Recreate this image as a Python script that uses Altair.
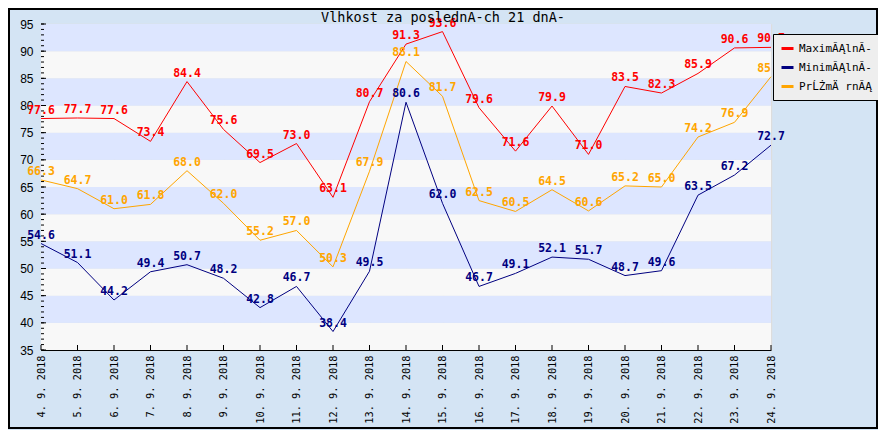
import altair as alt
import pandas as pd

dates = ["4. 9. 2018", "5. 9. 2018", "6. 9. 2018", "7. 9. 2018", "8. 9. 2018",
         "9. 9. 2018", "10. 9. 2018", "11. 9. 2018", "12. 9. 2018", "13. 9. 2018",
         "14. 9. 2018", "15. 9. 2018", "16. 9. 2018", "17. 9. 2018", "18. 9. 2018",
         "19. 9. 2018", "20. 9. 2018", "21. 9. 2018", "22. 9. 2018", "23. 9. 2018",
         "24. 9. 2018"]
maximum = [77.6, 77.7, 77.6, 73.4, 84.4, 75.6, 69.5, 73.0, 63.1, 80.7, 91.3,
           93.6, 79.6, 71.6, 79.9, 71.0, 83.5, 82.3, 85.9, 90.6, 90.7]
minimum = [54.6, 51.1, 44.2, 49.4, 50.7, 48.2, 42.8, 46.7, 38.4, 49.5, 80.6,
           62.0, 46.7, 49.1, 52.1, 51.7, 48.7, 49.6, 63.5, 67.2, 72.7]
average = [66.3, 64.7, 61.0, 61.8, 68.0, 62.0, 55.2, 57.0, 50.3, 67.9, 88.1,
           81.7, 62.5, 60.5, 64.5, 60.6, 65.2, 65.0, 74.2, 76.9, 85.3]
series_names = ["MaximĂĄlnĂ-", "MinimĂĄlnĂ-", "PrĹŻmÄ rnĂĄ"]
series_colors = ["#ff0000", "#000080", "#ffa500"]
title_text = "Vlhkost za poslednÃ-ch 21 dnÃ-"
y_ticks = list(range(35, 100, 5))
minor_ticks = list(range(35, 96))
band_starts = list(range(35, 95, 5))

rows = []
for name, vals in zip(series_names, [maximum, minimum, average]):
    for d, v in zip(dates, vals):
        rows.append({"date": d, "series": name, "value": v})
df = pd.DataFrame(rows)

bands = pd.DataFrame({
    "lo": band_starts,
    "hi": [b + 5 for b in band_starts],
    "kind": ["g" if ((b - 35) // 5) % 2 == 0 else "b" for b in band_starts],
})
minor_df = pd.DataFrame({"v": minor_ticks})
major_df = pd.DataFrame({"v": y_ticks})
dates_df = pd.DataFrame({"date": dates})

W, H = 730, 326
xscale = alt.Scale(type="point", domain=dates, padding=0)
yscale = alt.Scale(domain=[35, 95], nice=False, zero=False)
cscale = alt.Scale(domain=series_names, range=series_colors)

xaxis = alt.Axis(title=None, labelAngle=-90, labelFont="DejaVu Sans Mono",
                 labelFontSize=10.3, labelColor="black", ticks=False,
                 labelPadding=5, grid=True, gridColor="#dddddd", gridWidth=1.5,
                 domainColor="black", labelOverlap=False)
yaxis = alt.Axis(title=None, values=y_ticks, ticks=False, labelPadding=8,
                 labelFont="Liberation Sans", labelFontSize=12, labelColor="black",
                 labelOverlap=False, labelFlush=False,
                 grid=True, gridColor="#dddddd", gridWidth=1.5, domainColor="black")

band_layer = alt.Chart(bands).mark_rect().encode(
    y=alt.Y("lo:Q", scale=yscale, axis=yaxis),
    y2="hi:Q",
    x=alt.value(0), x2=alt.value(W),
    fill=alt.Fill("kind:N", scale=alt.Scale(domain=["g", "b"], range=["#f8f8f8", "#dde6ff"]), legend=None),
)

base = alt.Chart(df)
lines = base.mark_line(strokeWidth=1).encode(
    x=alt.X("date:N", scale=xscale, sort=dates, axis=xaxis),
    y=alt.Y("value:Q", scale=yscale, axis=yaxis),
    color=alt.Color("series:N", scale=cscale,
                    legend=alt.Legend(title=None, orient="none", legendX=732, legendY=10,
                                      fillColor="#eeeeee", strokeColor="black", padding=7,
                                      symbolType="stroke", symbolStrokeWidth=3, symbolSize=144,
                                      labelFont="DejaVu Sans Mono", labelFontSize=11,
                                      labelColor="black", rowPadding=5)),
    detail="series:N",
)
labels = base.mark_text(font="DejaVu Sans Mono", fontWeight="bold", fontSize=11.5,
                        baseline="bottom", align="center", dy=-3).encode(
    x=alt.X("date:N", scale=xscale, sort=dates, axis=xaxis),
    y=alt.Y("value:Q", scale=yscale, axis=yaxis),
    text=alt.Text("value:Q", format=".1f"),
    color=alt.Color("series:N", scale=cscale, legend=None),
)

minor_layer = alt.Chart(minor_df).mark_rule(color="black", strokeWidth=1).encode(
    y=alt.Y("v:Q", scale=yscale, axis=yaxis), x=alt.value(0), x2=alt.value(3))
major_layer = alt.Chart(major_df).mark_rule(color="black", strokeWidth=1).encode(
    y=alt.Y("v:Q", scale=yscale, axis=yaxis), x=alt.value(0), x2=alt.value(5))
xtick_layer = alt.Chart(dates_df).mark_rule(color="black", strokeWidth=1).encode(
    x=alt.X("date:N", scale=xscale, sort=dates, axis=xaxis), y=alt.value(H), y2=alt.value(H - 5))

one = pd.DataFrame({"a": [0]})
border = alt.Chart(one).mark_rect(fill=None, stroke="black", strokeWidth=2).encode(
    x=alt.value(-32), x2=alt.value(836), y=alt.value(-15), y2=alt.value(404))
title_layer = alt.Chart(one).mark_text(font="DejaVu Sans Mono", fontSize=13.5, color="black",
                                       align="center", baseline="middle").encode(
    x=alt.value(W / 2 + 37), y=alt.value(-6.5), text=alt.value(title_text))

chart = alt.layer(band_layer, lines, labels, minor_layer, major_layer, xtick_layer,
                  border, title_layer).properties(
    width=W, height=H,
    padding={"left": 33, "top": 16, "right": 107, "bottom": 80},
    autosize=alt.AutoSizeParams(type="none"),
    background="#d4e4f4",
).configure_view(stroke=None)

chart.save("out.html", embed_options={"renderer": "svg", "actions": False})
